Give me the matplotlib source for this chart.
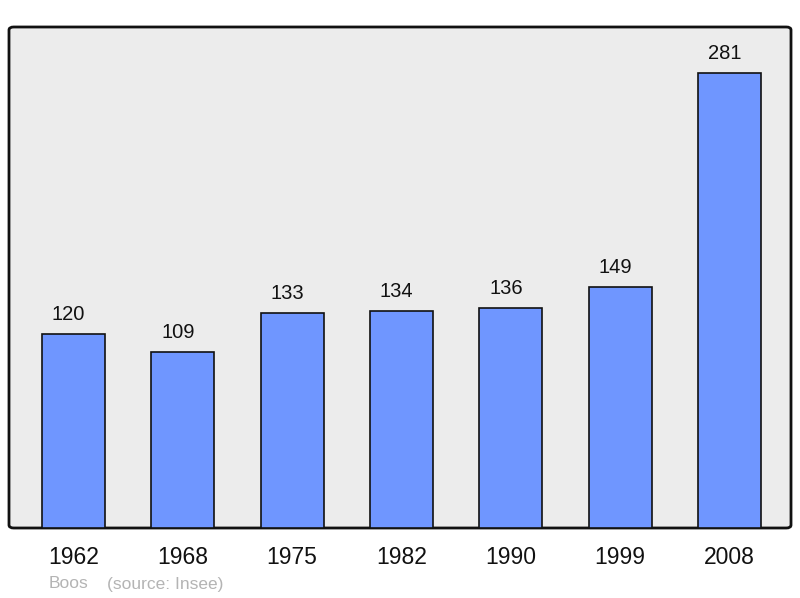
import matplotlib
matplotlib.use('Agg')
import matplotlib.pyplot as plt
from matplotlib.patches import FancyBboxPatch

years = ['1962', '1968', '1975', '1982', '1990', '1999', '2008']
population = [120, 109, 133, 134, 136, 149, 281]

plt.rcParams['font.family'] = ['Liberation Sans', 'DejaVu Sans']

fig = plt.figure(figsize=(8, 5.98), dpi=100)
ax = fig.add_axes([9 / 800, 1 - 528 / 598, 782 / 800, 501 / 598])
ax.set_facecolor('none')

# rounded frame behind the bars
frame = FancyBboxPatch((0, 0), 1, 1, boxstyle='round,pad=0,rounding_size=0.006',
                       transform=ax.transAxes, facecolor='#ececec',
                       edgecolor='#111111', linewidth=2, zorder=0, clip_on=False)
ax.add_patch(frame)

x = list(range(len(years)))
bars = ax.bar(x, population, width=0.576, color='#6f96ff', edgecolor='#111111',
              linewidth=1.2, zorder=2)
for xi, v in zip(x, population):
    ax.text(xi - 0.045, v + 8.6, str(v), ha='center', va='baseline',
            fontsize=14.5, color='#111111')

ax.set_xlim(-0.59, 6.5625)
ax.set_ylim(0, 309.4)
for s in ax.spines.values():
    s.set_visible(False)
ax.set_yticks([])
ax.set_xticks(x)
ax.set_xticklabels(years, fontsize=16.5, color='#111111')
ax.tick_params(axis='x', length=0, pad=13)

fig.text(49 / 800, 1 - 584 / 598, 'Boos', fontsize=12.5, color='#b4b4b4', va='center')
fig.text(107 / 800, 1 - 584 / 598, '(source: Insee)', fontsize=12.5, color='#b4b4b4', va='center')

fig.savefig('out.png', dpi=100)
